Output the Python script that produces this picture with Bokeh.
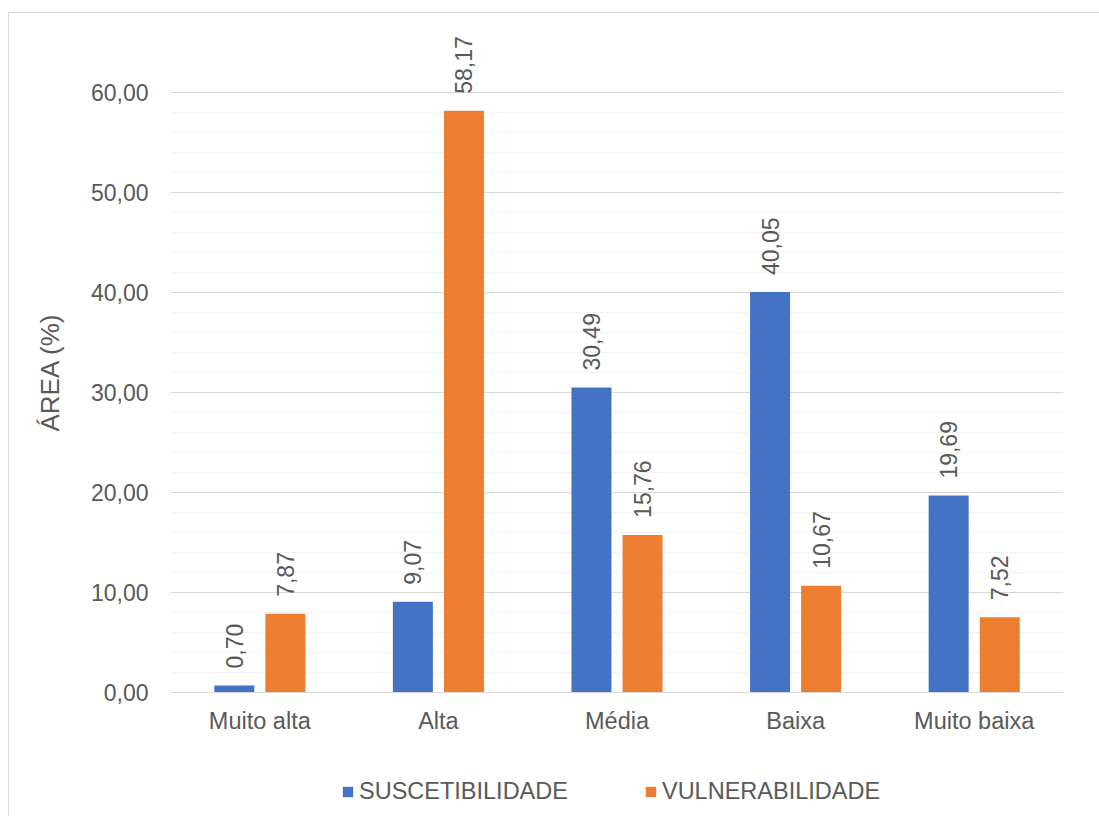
import math
from bokeh.plotting import figure
from bokeh.layouts import column
from bokeh.models import (ColumnDataSource, FactorRange, Range1d, FixedTicker, Title,
                          CustomJSTickFormatter, LabelSet, Legend, LegendItem)
from bokeh.core.properties import value
from bokeh.transform import dodge
from bokeh.embed import file_html
from bokeh.resources import INLINE

categories = ["Muito alta", "Alta", "Média", "Baixa", "Muito baixa"]
suscetibilidade = [0.70, 9.07, 30.49, 40.05, 19.69]
vulnerabilidade = [7.87, 58.17, 15.76, 10.67, 7.52]
series_names = ["SUSCETIBILIDADE", "VULNERABILIDADE"]
major_ticks = [0, 10, 20, 30, 40, 50, 60]
minor_ticks = [2, 4, 6, 8, 12, 14, 16, 18, 22, 24, 26, 28, 32, 34, 36, 38,
               42, 44, 46, 48, 52, 54, 56, 58]

FONT = "Liberation Sans"
TXT = "#595959"
BLUE = "#4472C4"
ORANGE = "#ED7D31"

def fmt(v):
    return f"{v:.2f}".replace(".", ",")

src = ColumnDataSource(dict(
    cat=categories,
    s=suscetibilidade,
    v=vulnerabilidade,
    s_lbl=[fmt(x) for x in suscetibilidade],
    v_lbl=[fmt(x) for x in vulnerabilidade],
))

p = figure(x_range=FactorRange(*categories), y_range=Range1d(0, 67.9),
           width=1091, height=744, output_backend="svg", toolbar_location=None,
           min_border_left=161, min_border_right=37, min_border_top=0, min_border_bottom=65)
p.outline_line_color = None
p.background_fill_color = "white"
p.border_fill_color = "white"

off = 0.143
w = 0.224
r1 = p.vbar(x=dodge("cat", -off, range=p.x_range), top="s", width=w, source=src,
            fill_color=BLUE, line_color=None)
r2 = p.vbar(x=dodge("cat", off, range=p.x_range), top="v", width=w, source=src,
            fill_color=ORANGE, line_color=None)

for col, lbl, o in (("s", "s_lbl", -off), ("v", "v_lbl", off)):
    ls = LabelSet(x=dodge("cat", o, range=p.x_range), y=col, text=lbl, source=src,
                  angle=math.pi / 2, text_align="left", text_baseline="middle",
                  y_offset=17, text_font=value(FONT), text_font_size=value("23px"),
                  text_color=TXT)
    p.add_layout(ls)

# axes
p.yaxis.ticker = FixedTicker(ticks=major_ticks, minor_ticks=minor_ticks)
p.yaxis.formatter = CustomJSTickFormatter(code="return tick.toFixed(2).replace('.', ',');")
p.yaxis.axis_line_color = None
p.yaxis.major_tick_line_color = None
p.yaxis.minor_tick_line_color = None
p.yaxis.major_tick_out = 0
p.yaxis.major_tick_in = 0
p.yaxis.minor_tick_out = 0
p.yaxis.major_label_standoff = 22
p.yaxis.major_label_text_font = FONT
p.yaxis.major_label_text_font_size = "23px"
p.yaxis.major_label_text_color = TXT

ytitle = Title(text="ÁREA (%)", align="left", offset=261, standoff=45,
               text_font=FONT, text_font_size="26px", text_font_style="normal",
               text_color=TXT)
p.add_layout(ytitle, "left")

p.xaxis.axis_line_color = "#d9d9d9"
p.xaxis.axis_line_width = 1
p.xaxis.major_tick_line_color = None
p.xaxis.major_tick_out = 0
p.xaxis.major_tick_in = 0
p.xaxis.major_label_standoff = 15
p.xaxis.major_label_text_font = FONT
p.xaxis.major_label_text_font_size = "23.5px"
p.xaxis.major_label_text_color = TXT

p.xgrid.grid_line_color = None
p.ygrid.grid_line_color = "#d9d9d9"
p.ygrid.minor_grid_line_color = "#f2f2f2"

# legend strip: its bars lie far outside its y range, only the legend shows
pl = figure(x_range=FactorRange(*categories), y_range=Range1d(1000, 1001),
            width=1091, height=60, output_backend="svg", toolbar_location=None,
            min_border_left=0, min_border_right=0, min_border_top=0, min_border_bottom=0)
pl.axis.visible = False
pl.grid.visible = False
pl.outline_line_color = None
l1 = pl.vbar(x="cat", top="s", width=w, source=src, fill_color=BLUE, line_color=None)
l2 = pl.vbar(x="cat", top="v", width=w, source=src, fill_color=ORANGE, line_color=None)

legend = Legend(items=[LegendItem(label=series_names[0], renderers=[l1]),
                       LegendItem(label=series_names[1], renderers=[l2])],
                orientation="horizontal", location=(171, 12),
                glyph_width=13, glyph_height=13, label_standoff=5, spacing=76,
                padding=0, margin=0, border_line_color=None, background_fill_alpha=0,
                label_text_font=FONT, label_text_font_size="23.5px", label_text_color=TXT,
                label_height=20)
pl.add_layout(legend, "center")

layout = column(p, pl, spacing=0)
layout.margin = (12, 0, 0, 8)
layout.styles = {"border-top": "1px solid #d9d9d9", "border-left": "1px solid #d9d9d9"}

open("out.html", "w").write(file_html(layout, INLINE))
